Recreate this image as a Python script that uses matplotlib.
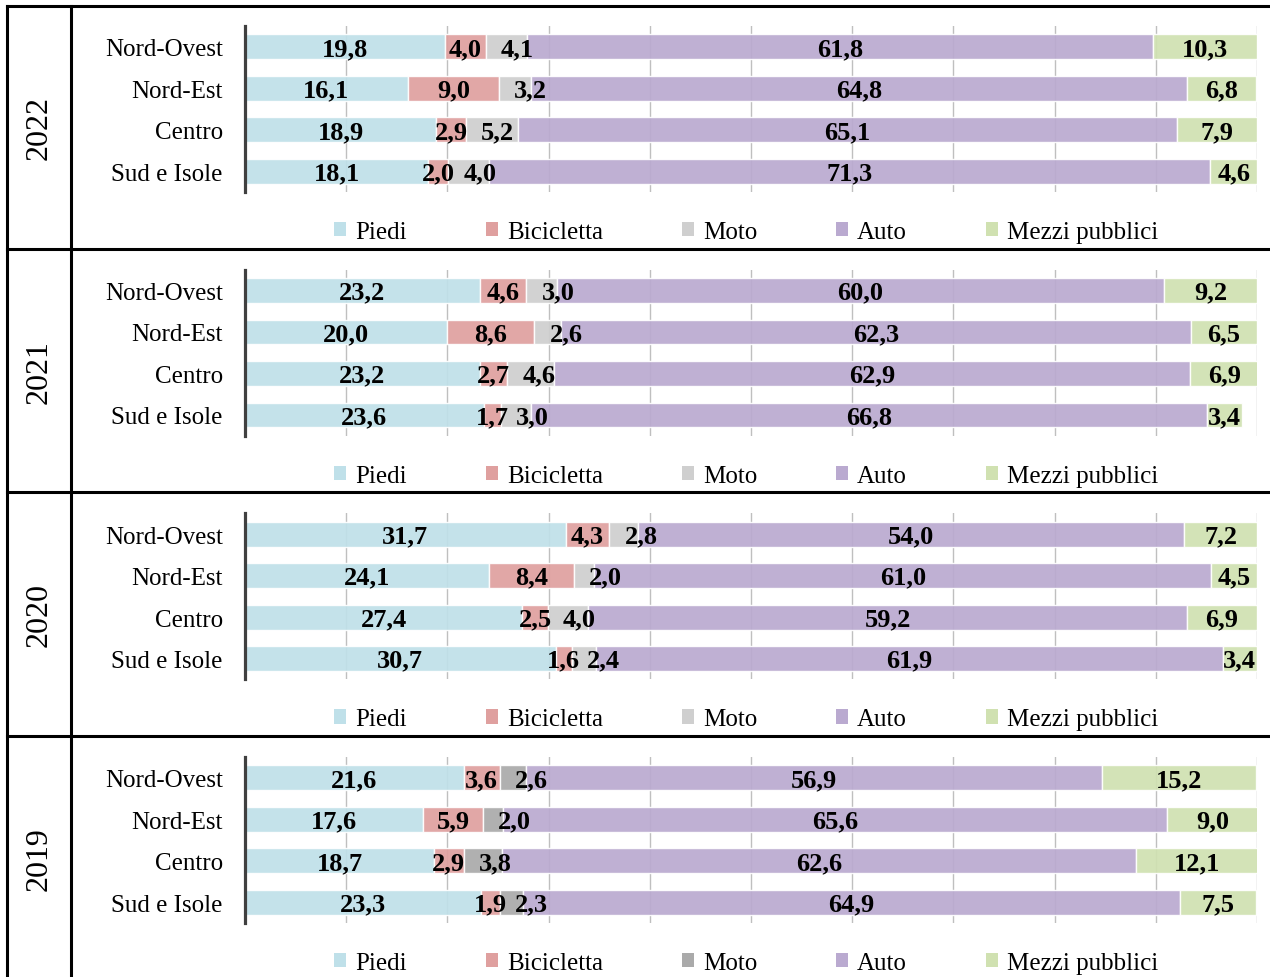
import numpy as np
import matplotlib
matplotlib.use('Agg')
import matplotlib.pyplot as plt
from matplotlib.patches import Patch
from matplotlib.lines import Line2D

plt.rcParams['font.family'] = ['Liberation Serif', 'DejaVu Serif']

# DATA (percentuali per modalita di spostamento)
years = ['2022', '2021', '2020', '2019']
regions = ['Nord-Ovest', 'Nord-Est', 'Centro', 'Sud e Isole']
modes = ['Piedi', 'Bicicletta', 'Moto', 'Auto', 'Mezzi pubblici']

# rows = regions, cols = modes
v2022 = [[19.8, 4.0, 4.1, 61.8, 10.3],
         [16.1, 9.0, 3.2, 64.8, 6.8],
         [18.9, 2.9, 5.2, 65.1, 7.9],
         [18.1, 2.0, 4.0, 71.3, 4.6]]
v2021 = [[23.2, 4.6, 3.0, 60.0, 9.2],
         [20.0, 8.6, 2.6, 62.3, 6.5],
         [23.2, 2.7, 4.6, 62.9, 6.9],
         [23.6, 1.7, 3.0, 66.8, 3.4]]
v2020 = [[31.7, 4.3, 2.8, 54.0, 7.2],
         [24.1, 8.4, 2.0, 61.0, 4.5],
         [27.4, 2.5, 4.0, 59.2, 6.9],
         [30.7, 1.6, 2.4, 61.9, 3.4]]
v2019 = [[21.6, 3.6, 2.6, 56.9, 15.2],
         [17.6, 5.9, 2.0, 65.6, 9.0],
         [18.7, 2.9, 3.8, 62.6, 12.1],
         [23.3, 1.9, 2.3, 64.9, 7.5]]
all_values = [v2022, v2021, v2020, v2019]

# COLORS
base_colors = ['#BFE0E9', '#DFA09F', '#CFCFCF', '#BAAAD0', '#D0E1B1']
moto_2019 = '#AAAAAA'

W, H = 1270, 978
fig = plt.figure(figsize=(W / 100, H / 100), dpi=100)

stride = 243.7
for i, (year, vals) in enumerate(zip(years, all_values)):
    off = i * stride
    top_px = 27 + off
    bot_px = 193 + off
    ax = fig.add_axes([245 / W, 1 - bot_px / H, 1012 / W, (bot_px - top_px) / H])

    colors = list(base_colors)
    if year == '2019':
        colors[2] = moto_2019

    data = np.array(vals)
    y = np.arange(len(regions))
    left = np.zeros(len(regions))
    for j, mode in enumerate(modes):
        ax.barh(y, data[:, j], left=left, height=0.6, color=colors[j],
                edgecolor='white', linewidth=1, alpha=0.92, zorder=2)
        for k in range(len(regions)):
            txt = f"{data[k, j]:.1f}".replace('.', ',')
            if mode == 'Moto':
                # moto labels sit a bit right of the segment start
                ax.text(left[k] + 1.5, y[k] + 0.04, txt, ha='left', va='center',
                        fontsize=19, fontweight='bold', zorder=4)
            else:
                ax.text(left[k] + data[k, j] / 2, y[k] + 0.04, txt, ha='center',
                        va='center', fontsize=19, fontweight='bold', zorder=4)
        left = left + data[:, j]

    ax.set_xlim(0, 100)
    ax.set_ylim(3.5, -0.5)
    ax.set_xticks(np.arange(10, 101, 10))
    ax.set_xticklabels([])
    ax.grid(axis='x', color='#BFBFBF', linewidth=1, zorder=0)
    ax.set_axisbelow(True)
    ax.set_yticks(y)
    ax.set_yticklabels(regions, fontsize=18)
    ax.tick_params(axis='both', length=0, pad=16)
    for s in ['top', 'right', 'bottom']:
        ax.spines[s].set_visible(False)
    ax.spines['left'].set_color('#404040')
    ax.spines['left'].set_linewidth(2.3)
    ax.spines['left'].set_zorder(5)

    # legend
    handles = [Patch(facecolor=c, edgecolor='none') for c in colors]
    ax.legend(handles, modes, loc='center', ncol=5, frameon=False,
              bbox_to_anchor=(746 / W, 1 - (233 + off) / H),
              bbox_transform=fig.transFigure, fontsize=18,
              handlelength=0.5, handleheight=0.5, handletextpad=0.35,
              columnspacing=3.15)

    # year label
    fig.text(39 / W, 1 - (128 + off) / H, year, rotation=90,
             ha='center', va='center', fontsize=23)

# TABLE BORDERS
lw = 2.2
fig.add_artist(Line2D([7 / W, 1], [1 - 7 / H, 1 - 7 / H], color='black', lw=lw))
fig.add_artist(Line2D([7 / W, 7 / W], [0, 1 - 7 / H], color='black', lw=lw))
fig.add_artist(Line2D([71 / W, 71 / W], [0, 1 - 7 / H], color='black', lw=lw))
for i in range(1, 4):
    ypx = 7 + i * stride - 1
    fig.add_artist(Line2D([7 / W, 1], [1 - ypx / H, 1 - ypx / H], color='black', lw=lw))

plt.savefig('out.png', dpi=100)
